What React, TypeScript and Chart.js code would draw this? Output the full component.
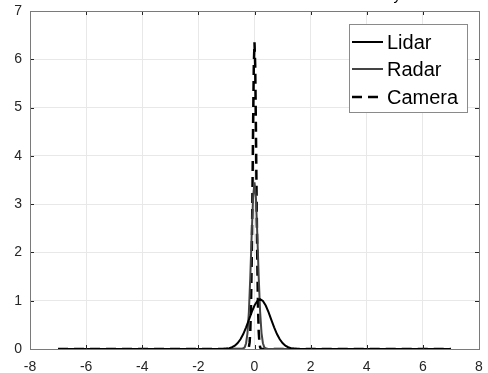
import React, { useEffect, useRef } from "react";
import { Chart, registerables } from "chart.js";

Chart.register(...registerables);

const lidarX = [-7, -1.2, -1.1, -1.0, -0.9, -0.8, -0.7, -0.6, -0.5, -0.4, -0.3, -0.2, -0.1, 0, 0.1, 0.2, 0.3, 0.4, 0.5, 0.6, 0.7, 0.8, 0.9, 1.0, 1.1, 1.2, 1.3, 1.4, 1.5, 1.6, 7];
const lidarY = [0, 0.0015, 0.0037, 0.0085, 0.018, 0.037, 0.069, 0.122, 0.201, 0.31, 0.448, 0.604, 0.763, 0.901, 0.996, 1.03, 0.996, 0.901, 0.763, 0.604, 0.448, 0.31, 0.201, 0.122, 0.069, 0.037, 0.018, 0.0085, 0.0037, 0.0015, 0];

const radarX = [-7, -0.45, -0.4, -0.35, -0.3, -0.25, -0.2, -0.15, -0.1, -0.05, 0, 0.05, 0.1, 0.15, 0.2, 0.25, 0.3, 0.35, 0.4, 0.45, 7];
const radarY = [0, 0.0015, 0.009, 0.035, 0.12, 0.33, 0.77, 1.49, 2.37, 3.14, 3.45, 3.14, 2.37, 1.49, 0.77, 0.33, 0.12, 0.035, 0.009, 0.0015, 0];

const cameraX = [-7, -0.25, -0.225, -0.2, -0.175, -0.15, -0.125, -0.1, -0.075, -0.05, -0.025, 0, 0.025, 0.05, 0.075, 0.1, 0.125, 0.15, 0.175, 0.2, 0.225, 0.25, 7];
const cameraY = [0, 0.0023, 0.0104, 0.04, 0.131, 0.366, 0.876, 1.79, 3.11, 4.63, 5.87, 6.35, 5.87, 4.63, 3.11, 1.79, 0.876, 0.366, 0.131, 0.04, 0.0104, 0.0023, 0];

const seriesLabels = ["Lidar", "Radar", "Camera"];
const xTickValues = [-8, -6, -4, -2, 0, 2, 4, 6, 8];
const yTickValues = [0, 1, 2, 3, 4, 5, 6, 7];
const titleText = "Probability";

const toPoints = (xs: number[], ys: number[]) => xs.map((x, i) => ({ x, y: ys[i] }));

const FONT = "'Liberation Sans', Arial, sans-serif";

const framePlugin = {
  id: "frame",
  afterDraw(chart: any) {
    const { ctx, chartArea: a, scales } = chart;
    ctx.save();
    ctx.strokeStyle = "#262626";
    ctx.lineWidth = 1;
    ctx.beginPath();
    xTickValues.forEach((v) => {
      const px = Math.round(scales.x.getPixelForValue(v)) + 0.5;
      ctx.moveTo(px, a.bottom);
      ctx.lineTo(px, a.bottom - 4);
      ctx.moveTo(px, a.top);
      ctx.lineTo(px, a.top + 4);
    });
    yTickValues.forEach((v) => {
      const py = Math.round(scales.y.getPixelForValue(v)) + 0.5;
      ctx.moveTo(a.left, py);
      ctx.lineTo(a.left + 4, py);
      ctx.moveTo(a.right, py);
      ctx.lineTo(a.right - 4, py);
    });
    ctx.stroke();
    ctx.strokeStyle = "#7a7a7a";
    ctx.strokeRect(Math.round(a.left) + 0.5, Math.round(a.top) + 0.5, Math.round(a.right - a.left), Math.round(a.bottom - a.top));

    // legend
    const bx = 349.5, by = 24.5, bw = 118, bh = 88;
    ctx.fillStyle = "#ffffff";
    ctx.fillRect(bx, by, bw, bh);
    ctx.strokeStyle = "#8a8a8a";
    ctx.lineWidth = 1;
    ctx.strokeRect(bx, by, bw, bh);
    const rows = [42, 69, 97];
    chart.data.datasets.forEach((ds: any, i: number) => {
      ctx.beginPath();
      ctx.strokeStyle = ds.borderColor;
      ctx.lineWidth = ds.borderWidth;
      ctx.setLineDash(ds.borderDash || []);
      ctx.moveTo(352, rows[i]);
      ctx.lineTo(383, rows[i]);
      ctx.stroke();
      ctx.setLineDash([]);
      ctx.fillStyle = "#000000";
      ctx.font = `20px ${FONT}`;
      ctx.textBaseline = "middle";
      ctx.textAlign = "left";
      ctx.fillText(ds.label, 387, rows[i] + 1);
    });

    // clipped title
    ctx.fillStyle = "#000000";
    ctx.font = `15px ${FONT}`;
    ctx.textAlign = "right";
    ctx.textBaseline = "alphabetic";
    ctx.fillText(titleText, 401, -0.5);
    ctx.restore();
  },
};

export default function App() {
  const ref = useRef<HTMLCanvasElement | null>(null);
  useEffect(() => {
    document.body.style.margin = "0";
    const chart = new Chart(ref.current as HTMLCanvasElement, {
      type: "line",
      data: {
        datasets: [
          {
            label: seriesLabels[0],
            data: toPoints(lidarX, lidarY),
            borderColor: "#000000",
            borderWidth: 2,
            pointRadius: 0,
            tension: 0,
          },
          {
            label: seriesLabels[1],
            data: toPoints(radarX, radarY),
            borderColor: "#444444",
            borderWidth: 2,
            pointRadius: 0,
            tension: 0,
          },
          {
            label: seriesLabels[2],
            data: toPoints(cameraX, cameraY),
            borderColor: "#000000",
            borderWidth: 2.5,
            borderDash: [10, 6],
            pointRadius: 0,
            tension: 0,
          },
        ],
      },
      options: {
        animation: false,
        responsive: true,
        maintainAspectRatio: false,
        layout: { padding: { top: 11, right: 9, left: 0, bottom: 0 } },
        plugins: { legend: { display: false }, tooltip: { enabled: false } },
        scales: {
          x: {
            type: "linear",
            min: -8,
            max: 8,
            afterBuildTicks: (s: any) => {
              s.ticks = xTickValues.map((v) => ({ value: v }));
            },
            afterFit: (s: any) => {
              s.height = 24;
              s.paddingLeft = 0;
              s.paddingRight = 0;
            },
            grid: { color: "#e8e8e8", drawTicks: false },
            border: { display: false },
            ticks: { color: "#262626", font: { family: FONT, size: 14 }, padding: 10, maxRotation: 0 },
          },
          y: {
            type: "linear",
            min: 0,
            max: 7,
            afterBuildTicks: (s: any) => {
              s.ticks = yTickValues.map((v) => ({ value: v }));
            },
            afterFit: (s: any) => {
              s.width = 30;
              s.paddingTop = 0;
              s.paddingBottom = 0;
            },
            grid: { color: "#e8e8e8", drawTicks: false },
            border: { display: false },
            ticks: { color: "#262626", font: { family: FONT, size: 14 }, padding: 8 },
          },
        },
      },
      plugins: [framePlugin],
    });
    return () => chart.destroy();
  }, []);
  return (
    <div style={{ position: "fixed", left: 0, top: 0, width: 488, height: 373 }}>
      <canvas ref={ref} />
    </div>
  );
}
